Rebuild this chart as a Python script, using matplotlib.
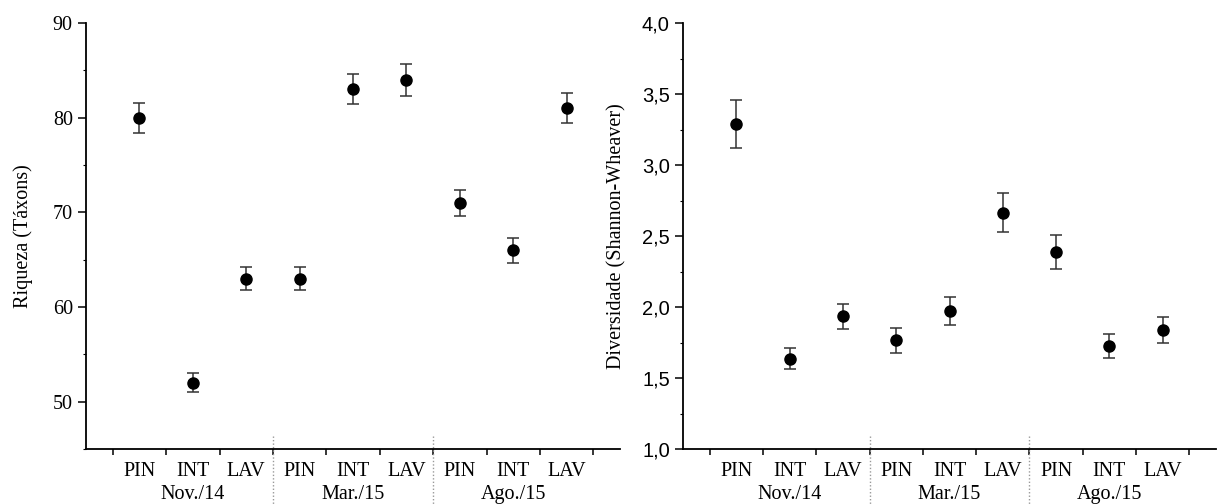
import matplotlib
matplotlib.use("Agg")
import matplotlib.pyplot as plt
from matplotlib.ticker import MultipleLocator, FixedLocator, NullFormatter
from matplotlib.transforms import blended_transform_factory

# Sampling campaigns and sites
periods = ["Nov./14", "Mar./15", "Ago./15"]
sites = ["PIN", "INT", "LAV"]

# Richness (number of taxa) with error
riqueza = [80, 52, 63, 63, 83, 84, 71, 66, 81]
riqueza_err = [1.6, 1.0, 1.2, 1.25, 1.6, 1.7, 1.4, 1.3, 1.6]

# Shannon-Wiener diversity with error
diversidade = [3.29, 1.635, 1.935, 1.765, 1.97, 2.665, 2.385, 1.725, 1.84]
diversidade_err = [0.17, 0.075, 0.088, 0.09, 0.10, 0.135, 0.12, 0.087, 0.093]

div_ticks = [1.0, 1.5, 2.0, 2.5, 3.0, 3.5, 4.0]
div_ticklabels = ["1,0", "1,5", "2,0", "2,5", "3,0", "3,5", "4,0"]
riq_ticks = [50, 60, 70, 80, 90]

SERIF = "Liberation Serif"
SANS = "Liberation Sans"
FS = 14.5

fig = plt.figure(figsize=(12.19, 5.04), dpi=100)
W, H = 1219, 504
ax1 = fig.add_axes([86 / W, 1 - 449 / H, 534 / W, 426 / H])
ax2 = fig.add_axes([683 / W, 1 - 449 / H, 533 / W, 426 / H])

n = len(periods) * len(sites)
xpos = list(range(1, n + 1))


def style_axis(ax, values, errors):
    ax.errorbar(xpos, values, yerr=errors, fmt="o", color="black",
                ecolor="#333333", elinewidth=1.1, capsize=4, capthick=1.1,
                markersize=8, zorder=3)
    ax.set_xlim(0, n + 1)
    for side in ("top", "right"):
        ax.spines[side].set_visible(False)
    for side in ("left", "bottom"):
        ax.spines[side].set_linewidth(1.3)

    # boundaries between sites carry the ticks, site names sit between them
    ax.xaxis.set_major_locator(FixedLocator([i + 0.5 for i in range(n + 1)]))
    ax.xaxis.set_major_formatter(NullFormatter())
    ax.xaxis.set_minor_locator(FixedLocator(xpos))
    ax.set_xticklabels(sites * len(periods), minor=True,
                       fontfamily=SERIF, fontsize=FS)
    ax.tick_params(axis="x", which="major", direction="out", length=4, width=1.1)
    ax.tick_params(axis="x", which="minor", length=0, pad=9)
    ax.tick_params(axis="y", which="major", direction="out", length=6, width=1.1)
    ax.tick_params(axis="y", which="minor", direction="out", length=2.5, width=0.8)

    trans = blended_transform_factory(ax.transData, ax.transAxes)
    for k, p in enumerate(periods):
        ax.text(len(sites) * k + 2, -0.107, p, transform=trans,
                ha="center", va="center", fontfamily=SERIF, fontsize=FS)
    for b in range(1, len(periods)):
        xb = len(sites) * b + 0.5
        ax.plot([xb, xb], [0.03, -0.13], transform=trans, clip_on=False,
                color="#999999", linestyle=(0, (1, 1.5)), linewidth=1.0)


style_axis(ax1, riqueza, riqueza_err)
ax1.set_ylim(45, 90)
ax1.set_yticks(riq_ticks)
ax1.yaxis.set_minor_locator(MultipleLocator(5))
ax1.set_yticklabels([str(t) for t in riq_ticks], fontfamily=SERIF, fontsize=FS)
ax1.set_ylabel("Riqueza (Táxons)", fontfamily=SERIF, fontsize=FS, labelpad=14)

style_axis(ax2, diversidade, diversidade_err)
ax2.set_ylim(1.0, 4.0)
ax2.set_yticks(div_ticks)
ax2.yaxis.set_minor_locator(MultipleLocator(0.25))
ax2.set_yticklabels(div_ticklabels, fontfamily=SANS, fontsize=FS)
ax2.set_ylabel("Diversidade (Shannon-Wheaver)", fontfamily=SERIF,
               fontsize=FS, labelpad=11)

fig.savefig("out.png", dpi=100, facecolor="white")
